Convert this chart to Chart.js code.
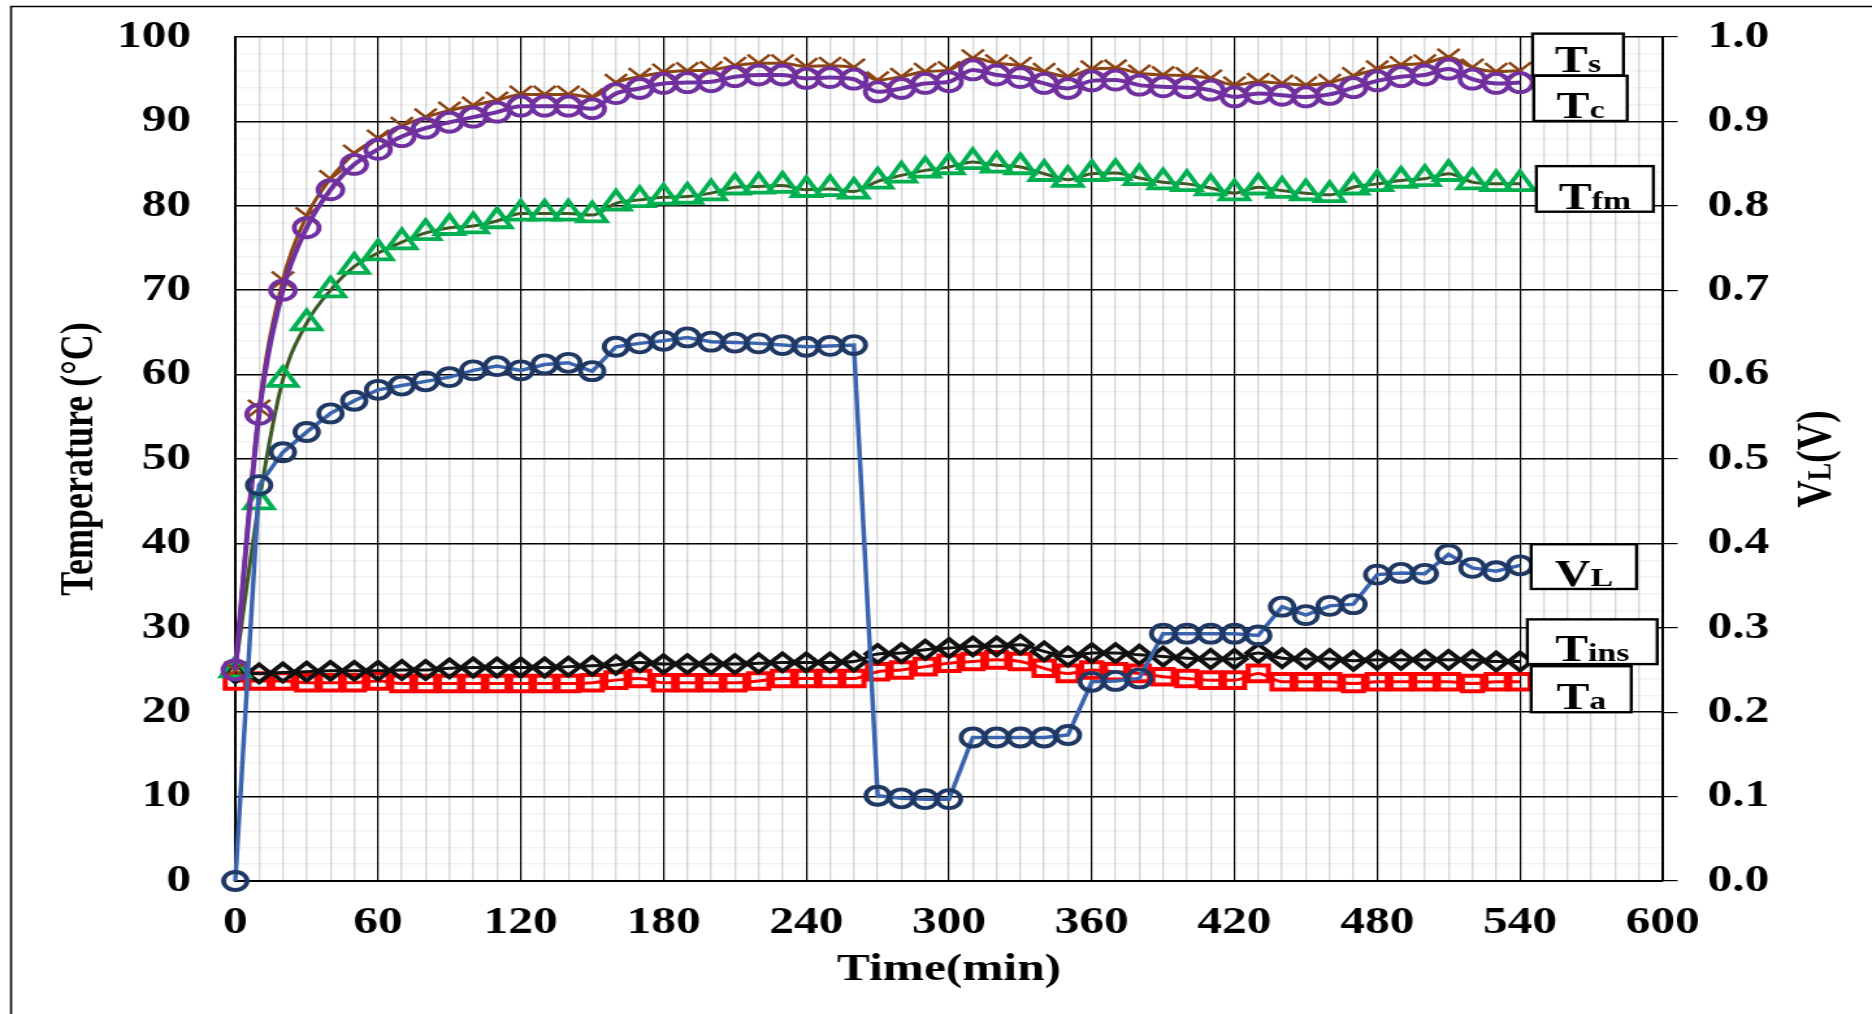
<!DOCTYPE html>
<html lang="en">
<head>
<meta charset="UTF-8">
<title>Temperature and VL vs Time</title>
<script src="https://cdn.jsdelivr.net/npm/chart.js"></script>
<style>
    html, body {
        margin: 0;
        padding: 0;
        background: #fff;
        overflow: hidden;
    }
    /* the original figure is stretched sideways, so draw narrow and scale it */
    #wrap {
        width: 1440px;
        height: 1014px;
        transform: scaleX(1.3);
        transform-origin: 0 0;
    }
</style>
</head>
<body>
<div id="wrap"><canvas id="chart"></canvas></div>
<script>
// time axis (min)
const timeMin = [0, 10, 20, 30, 40, 50, 60, 70, 80, 90, 100, 110, 120, 130, 140, 150, 160, 170, 180, 190,
    200, 210, 220, 230, 240, 250, 260, 270, 280, 290, 300, 310, 320, 330, 340, 350, 360, 370, 380, 390,
    400, 410, 420, 430, 440, 450, 460, 470, 480, 490, 500, 510, 520, 530, 540];

// temperatures (°C)
const tS = [25, 56, 71.2, 78.8, 83.2, 86.2, 88, 89.5, 90.5, 91.3, 91.9, 92.5, 93.2, 93.2, 93.2, 92.9, 94.6, 95.3, 95.8, 96,
    96.1, 96.6, 96.9, 96.9, 96.5, 96.6, 96.4, 94.9, 95.3, 95.9, 96.1, 97.5, 96.9, 96.6, 95.9, 95.3, 96.2, 96.3, 95.7, 95.5,
    95.4, 95.1, 94.3, 94.7, 94.5, 94.3, 94.6, 95.4, 96.2, 96.7, 96.9, 97.6, 96.4, 95.9, 96];
const tC = [25, 55.3, 70, 77.4, 81.9, 84.9, 86.7, 88.2, 89.2, 89.9, 90.5, 91.1, 91.8, 91.8, 91.8, 91.5, 93.3, 93.9, 94.5, 94.6,
    94.7, 95.3, 95.5, 95.5, 95.1, 95.2, 95, 93.5, 93.9, 94.5, 94.7, 96.1, 95.5, 95.2, 94.5, 93.9, 94.8, 94.9, 94.3, 94.1,
    94, 93.7, 92.9, 93.3, 93.1, 92.9, 93.2, 94, 94.8, 95.3, 95.5, 96.2, 95, 94.5, 94.6];
const tFm = [25, 44.9, 59.4, 66.1, 70, 72.8, 74.4, 75.7, 76.8, 77.4, 77.6, 78.2, 79.1, 79.1, 79.1, 78.9, 80.3, 80.7, 81, 81.1,
    81.5, 82.2, 82.3, 82.4, 81.9, 82, 81.7, 82.9, 83.6, 84.2, 84.6, 85.2, 84.8, 84.6, 83.8, 83.1, 83.8, 83.9, 83.3, 82.8,
    82.6, 82.1, 81.5, 82.2, 81.8, 81.5, 81.3, 82.2, 82.6, 83, 83.2, 83.8, 82.8, 82.6, 82.6];
const tIns = [24.6, 24.6, 24.7, 24.8, 24.9, 24.9, 24.9, 25, 25, 25.2, 25.3, 25.3, 25.3, 25.3, 25.4, 25.5, 25.6, 25.9, 25.7, 25.7,
    25.7, 25.7, 25.8, 25.9, 25.9, 25.9, 26, 26.9, 27, 27.4, 27.6, 27.8, 27.8, 28, 27.2, 26.6, 27, 27, 26.8, 26.6,
    26.4, 26.3, 26.3, 27, 26.4, 26.3, 26.3, 26.1, 26.2, 26.2, 26.2, 26.2, 26.2, 26, 26];
const tA = [23.7, 23.7, 23.7, 23.5, 23.5, 23.5, 23.7, 23.4, 23.4, 23.4, 23.4, 23.4, 23.4, 23.4, 23.4, 23.5, 23.8, 24, 23.5, 23.5,
    23.5, 23.5, 23.7, 24, 24, 24, 24, 24.8, 25, 25.4, 25.8, 26, 26.2, 26, 25.2, 24.6, 25, 24.8, 24.6, 24.2,
    24, 23.8, 23.8, 24.6, 23.6, 23.6, 23.6, 23.4, 23.6, 23.6, 23.6, 23.6, 23.4, 23.6, 23.6];

// load voltage (V), right axis
const vL = [0, 0.469, 0.508, 0.532, 0.554, 0.569, 0.582, 0.587, 0.592, 0.597, 0.605, 0.61, 0.605, 0.612, 0.614, 0.604, 0.633, 0.637, 0.64, 0.644,
    0.639, 0.638, 0.637, 0.635, 0.633, 0.634, 0.635, 0.101, 0.098, 0.097, 0.097, 0.17, 0.17, 0.17, 0.17, 0.173, 0.236, 0.237, 0.24, 0.293,
    0.293, 0.293, 0.293, 0.291, 0.325, 0.315, 0.326, 0.328, 0.363, 0.365, 0.364, 0.387, 0.371, 0.367, 0.374];

// tick labels
const xTickLabels = [0, 60, 120, 180, 240, 300, 360, 420, 480, 540, 600];
const yTickLabels = [0, 10, 20, 30, 40, 50, 60, 70, 80, 90, 100];
const y1TickLabels = ['0.0', '0.1', '0.2', '0.3', '0.4', '0.5', '0.6', '0.7', '0.8', '0.9', '1.0'];

const FONT = "'Liberation Serif', 'Times New Roman', serif";

function pts(arr) {
    return timeMin.map((t, i) => ({ x: t, y: arr[i] }));
}

// series name boxes next to the end of each curve
const seriesBoxes = [
    { main: 'T', sub: 's',   from: 545.3, to: 583.5, top: 100.4, bottom: 95.45 },
    { main: 'T', sub: 'c',   from: 545.8, to: 585.1, top: 95.4,  bottom: 90.05 },
    { main: 'T', sub: 'fm',  from: 546.9, to: 596.1, top: 84.7,  bottom: 79.3 },
    { main: 'V', sub: 'L',   from: 544.7, to: 589.0, top: 39.9,  bottom: 34.6 },
    { main: 'T', sub: 'ins', from: 543.1, to: 597.7, top: 31.0,  bottom: 25.7 },
    { main: 'T', sub: 'a',   from: 544.7, to: 586.8, top: 25.45, bottom: 20.0 }
];

function drawParts(ctx, x, y, parts, align) {
    let total = 0;
    parts.forEach(p => {
        ctx.font = 'bold ' + p.size + 'px ' + FONT;
        p.w = ctx.measureText(p.t).width;
        total += p.w;
    });
    let cx = align === 'center' ? x - total / 2 : x;
    parts.forEach(p => {
        ctx.font = 'bold ' + p.size + 'px ' + FONT;
        ctx.fillText(p.t, cx, y);
        cx += p.w;
    });
}

const annotate = {
    id: 'annotate',
    afterDraw(chart) {
        const ctx = chart.ctx;
        const xs = chart.scales.x, ys = chart.scales.y;
        const area = chart.chartArea;
        ctx.save();

        // outer frame (top and left)
        ctx.strokeStyle = '#000';
        ctx.lineWidth = 1.6;
        ctx.beginPath();
        ctx.moveTo(8.5, 1014);
        ctx.lineTo(8.5, 6.5);
        ctx.lineTo(1440, 6.5);
        ctx.stroke();

        ctx.fillStyle = '#000';
        ctx.textBaseline = 'middle';
        ctx.textAlign = 'center';

        // x title
        ctx.font = 'bold 38px ' + FONT;
        ctx.fillText('Time(min)', (area.left + area.right) / 2, 970);

        // left title
        const midY = (area.top + area.bottom) / 2;
        ctx.save();
        ctx.translate(62, midY);
        ctx.rotate(-Math.PI / 2);
        ctx.font = 'bold 36px ' + FONT;
        ctx.fillText('Temperature (°C)', 0, 0);
        ctx.restore();

        // right title
        ctx.save();
        ctx.translate(1396, midY);
        ctx.rotate(-Math.PI / 2);
        ctx.textAlign = 'left';
        ctx.textBaseline = 'alphabetic';
        drawParts(ctx, 0, 12, [{ t: 'V', size: 38 }, { t: 'L', size: 26 }, { t: '(V)', size: 38 }], 'center');
        ctx.restore();

        // series boxes
        ctx.textAlign = 'left';
        ctx.textBaseline = 'alphabetic';
        seriesBoxes.forEach(b => {
            const l = xs.getPixelForValue(b.from), r = xs.getPixelForValue(b.to);
            const t = ys.getPixelForValue(b.top), btm = ys.getPixelForValue(b.bottom);
            ctx.fillStyle = '#fff';
            ctx.fillRect(l, t, r - l, btm - t);
            ctx.strokeStyle = '#000';
            ctx.lineWidth = 2.4;
            ctx.strokeRect(l, t, r - l, btm - t);
            ctx.fillStyle = '#000';
            drawParts(ctx, (l + r) / 2, btm - 3, [{ t: b.main, size: 38 }, { t: b.sub, size: 26 }], 'center');
        });

        ctx.restore();
    }
};

const tickFont = { family: FONT, size: 38, weight: 'bold' };

// fixed axis sizes, and no extra room for overhanging labels
function fixSize(w, h) {
    return s => {
        if (w !== null) s.width = w;
        if (h !== null) s.height = h;
        s.paddingTop = 0;
        s.paddingBottom = 0;
        s.paddingLeft = 0;
        s.paddingRight = 0;
    };
}

new Chart(document.getElementById('chart'), {
    type: 'line',
    data: {
        datasets: [
            {
                label: 'VL', data: pts(vL), yAxisID: 'y1', order: 0,
                borderColor: '#3a64ad', borderWidth: 3.5, tension: 0,
                pointStyle: 'circle', pointRadius: 9, pointBorderWidth: 3.8,
                pointBorderColor: '#1f3864', pointBackgroundColor: 'rgba(0,0,0,0)'
            },
            {
                label: 'Tc', data: pts(tC), yAxisID: 'y', order: 1,
                borderColor: '#7030a0', borderWidth: 4, cubicInterpolationMode: 'monotone',
                pointStyle: 'circle', pointRadius: 9.5, pointBorderWidth: 3.8,
                pointBorderColor: '#7030a0', pointBackgroundColor: 'rgba(0,0,0,0)'
            },
            {
                label: 'Ts', data: pts(tS), yAxisID: 'y', order: 2,
                borderColor: '#8c4513', borderWidth: 3, cubicInterpolationMode: 'monotone',
                pointStyle: 'crossRot', pointRadius: 12, pointBorderWidth: 2.5,
                pointBorderColor: '#8c4513', pointBackgroundColor: 'rgba(0,0,0,0)'
            },
            {
                label: 'Tfm', data: pts(tFm), yAxisID: 'y', order: 3,
                borderColor: '#3d5a24', borderWidth: 3, cubicInterpolationMode: 'monotone',
                pointStyle: 'triangle', pointRadius: 12.5, pointBorderWidth: 3.8,
                pointBorderColor: '#00b050', pointBackgroundColor: 'rgba(0,0,0,0)'
            },
            {
                label: 'Tins', data: pts(tIns), yAxisID: 'y', order: 4,
                borderColor: '#111', borderWidth: 3, cubicInterpolationMode: 'monotone',
                pointStyle: 'rectRot', pointRadius: 9, pointBorderWidth: 3.8,
                pointBorderColor: '#111', pointBackgroundColor: 'rgba(0,0,0,0)'
            },
            {
                label: 'Ta', data: pts(tA), yAxisID: 'y', order: 5,
                borderColor: '#ff0000', borderWidth: 3, cubicInterpolationMode: 'monotone',
                pointStyle: 'rect', pointRadius: 11, pointBorderWidth: 4,
                pointBorderColor: '#ff0000', pointBackgroundColor: 'rgba(0,0,0,0)'
            }
        ].map(d => Object.assign(d, { clip: false, fill: false }))
    },
    options: {
        responsive: true,
        maintainAspectRatio: false,
        animation: false,
        layout: { padding: { top: 37, left: 0, right: 0, bottom: 0 } },
        plugins: {
            legend: { display: false },
            tooltip: { enabled: false }
        },
        scales: {
            x: {
                type: 'linear', min: 0, max: 600,
                afterFit: fixSize(null, 133),
                border: { color: '#000', width: 2 },
                grid: {
                    drawTicks: false,
                    color: c => (c.tick && c.tick.value % 60 === 0) ? '#000' : 'rgba(0,0,0,0.16)',
                    lineWidth: c => (c.tick && c.tick.value % 60 === 0) ? 1.2 : 1.4
                },
                ticks: {
                    stepSize: 10, autoSkip: false, maxRotation: 0, padding: 19,
                    color: '#000', font: tickFont,
                    callback: v => xTickLabels.includes(v) ? String(v) : ''
                }
            },
            y: {
                position: 'left', min: 0, max: 100,
                afterFit: fixSize(181, null),
                border: { color: '#000', width: 2 },
                grid: {
                    drawTicks: false,
                    color: c => (c.tick && c.tick.value % 10 === 0) ? '#000' : 'rgba(0,0,0,0.05)',
                    lineWidth: c => (c.tick && c.tick.value % 10 === 0) ? 1.5 : 1.4
                },
                ticks: {
                    stepSize: 2, autoSkip: false, padding: 34,
                    color: '#000', font: tickFont,
                    callback: v => yTickLabels.includes(v) ? String(v) : ''
                }
            },
            y1: {
                position: 'right', min: 0, max: 1,
                afterFit: fixSize(161, null),
                border: { color: '#000', width: 2 },
                grid: { drawOnChartArea: false, drawTicks: true, tickLength: 11.5, color: '#000', lineWidth: 1.2 },
                ticks: {
                    stepSize: 0.1, autoSkip: false, padding: 23,
                    color: '#000', font: tickFont,
                    callback: v => y1TickLabels[Math.round(v * 10)]
                }
            }
        }
    },
    plugins: [annotate]
});
</script>
</body>
</html>
